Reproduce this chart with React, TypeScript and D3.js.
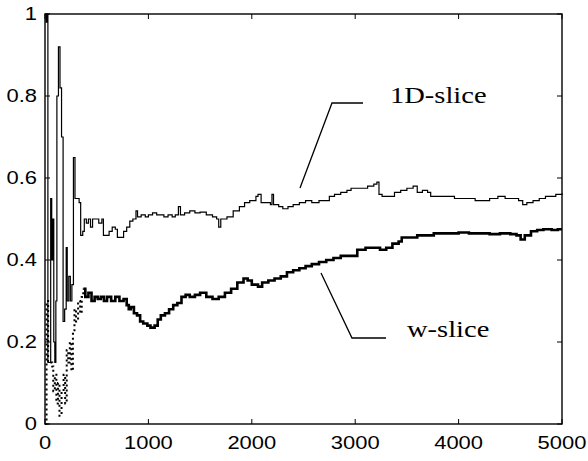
import React from "react";
import * as d3 from "d3";

// 1D-slice (thin line)
const sliceX = [0, 10, 20, 28, 40, 50, 55, 65, 75, 85, 95, 105, 115, 130, 145, 160, 175, 190, 205, 215, 230, 245, 260, 275, 290, 310, 330, 345, 365, 380, 400, 420, 440, 460, 490, 520, 550, 565, 590, 620, 650, 680, 700, 725, 760, 790, 820, 850, 880, 895, 930, 970, 1000, 1040, 1080, 1110, 1150, 1190, 1230, 1260, 1290, 1310, 1350, 1400, 1450, 1500, 1560, 1620, 1660, 1680, 1700, 1760, 1820, 1880, 1930, 1980, 2040, 2060, 2090, 2140, 2180, 2195, 2210, 2260, 2300, 2350, 2400, 2460, 2520, 2580, 2650, 2700, 2750, 2800, 2860, 2920, 2960, 3000, 3060, 3120, 3180, 3210, 3230, 3260, 3320, 3380, 3440, 3500, 3560, 3600, 3650, 3700, 3730, 3800, 3880, 3960, 4040, 4100, 4160, 4230, 4300, 4380, 4450, 4520, 4580, 4620, 4660, 4720, 4780, 4840, 4900, 4940, 5000];
const sliceY = [1.0, 0.98, 1.0, 0.15, 0.15, 0.15, 0.55, 0.4, 0.5, 0.2, 0.15, 0.3, 0.8, 0.92, 0.82, 0.7, 0.25, 0.28, 0.43, 0.3, 0.36, 0.3, 0.34, 0.65, 0.55, 0.55, 0.54, 0.46, 0.47, 0.5, 0.49, 0.5, 0.48, 0.5, 0.5, 0.49, 0.5, 0.46, 0.46, 0.47, 0.48, 0.475, 0.455, 0.455, 0.47, 0.48, 0.495, 0.5, 0.52, 0.505, 0.51, 0.505, 0.51, 0.515, 0.51, 0.51, 0.505, 0.51, 0.505, 0.51, 0.53, 0.51, 0.515, 0.52, 0.515, 0.517, 0.51, 0.505, 0.5, 0.48, 0.5, 0.505, 0.52, 0.53, 0.54, 0.545, 0.555, 0.56, 0.54, 0.54, 0.535, 0.56, 0.535, 0.53, 0.525, 0.53, 0.535, 0.54, 0.545, 0.54, 0.545, 0.545, 0.555, 0.56, 0.565, 0.57, 0.575, 0.575, 0.575, 0.58, 0.585, 0.59, 0.56, 0.555, 0.555, 0.565, 0.57, 0.575, 0.58, 0.565, 0.57, 0.565, 0.555, 0.555, 0.555, 0.55, 0.55, 0.55, 0.545, 0.545, 0.55, 0.555, 0.55, 0.55, 0.545, 0.535, 0.54, 0.545, 0.55, 0.555, 0.555, 0.56, 0.563];

// w-slice (thick line)
const wX = [0, 15, 30, 50, 70, 80, 95, 110, 125, 140, 160, 180, 195, 210, 225, 240, 255, 270, 285, 300, 320, 340, 355, 370, 390, 420, 450, 480, 510, 540, 570, 600, 640, 680, 720, 760, 790, 810, 830, 860, 890, 920, 950, 990, 1020, 1060, 1090, 1120, 1160, 1200, 1240, 1280, 1320, 1360, 1400, 1450, 1500, 1560, 1620, 1680, 1740, 1800, 1860, 1920, 1960, 2000, 2060, 2100, 2160, 2220, 2280, 2340, 2400, 2460, 2520, 2580, 2650, 2720, 2790, 2860, 2950, 3000, 3020, 3100, 3180, 3240, 3300, 3360, 3420, 3450, 3520, 3600, 3680, 3760, 3840, 3920, 4000, 4100, 4200, 4300, 4400, 4500, 4560, 4600, 4640, 4700, 4760, 4820, 4900, 4960, 5000];
const wY = [0.0, 0.3, 0.15, 0.15, 0.14, 0.08, 0.12, 0.05, 0.1, 0.02, 0.08, 0.12, 0.05, 0.18, 0.15, 0.2, 0.13, 0.22, 0.28, 0.25, 0.3, 0.27, 0.31, 0.33, 0.31, 0.32, 0.3, 0.31, 0.305, 0.31, 0.3, 0.31, 0.3, 0.31, 0.3, 0.305, 0.29, 0.28, 0.285, 0.27, 0.265, 0.25, 0.245, 0.24, 0.235, 0.24, 0.255, 0.265, 0.27, 0.28, 0.29, 0.295, 0.31, 0.315, 0.31, 0.315, 0.32, 0.31, 0.305, 0.31, 0.32, 0.33, 0.345, 0.355, 0.35, 0.34, 0.335, 0.345, 0.35, 0.355, 0.36, 0.37, 0.375, 0.38, 0.385, 0.39, 0.395, 0.4, 0.405, 0.41, 0.41, 0.41, 0.425, 0.43, 0.43, 0.425, 0.43, 0.44, 0.445, 0.455, 0.455, 0.46, 0.46, 0.465, 0.465, 0.465, 0.467, 0.465, 0.465, 0.463, 0.465, 0.463, 0.46, 0.45, 0.46, 0.47, 0.473, 0.475, 0.473, 0.475, 0.475];

const xTicks = [0, 1000, 2000, 3000, 4000, 5000];
const yTicks = [0, 0.2, 0.4, 0.6, 0.8, 1];
const yTickLabels = ["0", "0.2", "0.4", "0.6", "0.8", "1"];

export default function App() {
  const W = 588, H = 461;
  const left = 45, right = 562, top = 14, bottom = 424;

  const x = d3.scaleLinear().domain([0, 5000]).range([left, right]);
  const y = d3.scaleLinear().domain([0, 1]).range([bottom, top]);

  const line = d3.line<[number, number]>()
    .x(d => x(d[0]))
    .y(d => y(d[1]))
    .curve(d3.curveStepAfter);

  const slice = sliceX.map((v, i) => [v, sliceY[i]] as [number, number]);
  const wAll = wX.map((v, i) => [v, wY[i]] as [number, number]);
  const wEarly = wAll.filter(d => d[0] <= 370);
  const wLate = wAll.filter(d => d[0] >= 370);

  const tick = 5;
  const sans = "'Liberation Sans', Arial, sans-serif";
  const serif = "'Liberation Serif', 'Times New Roman', serif";

  return (
    <svg width={W} height={H} style={{ position: "absolute", left: 0, top: 0, background: "#fff" }}>
      <rect x={0} y={0} width={W} height={H} fill="#fff" />

      {/* axes box */}
      <rect x={left} y={top} width={right - left} height={bottom - top} fill="none" stroke="#000" strokeWidth={1.4} />

      {xTicks.map(t => (
        <g key={"xt" + t}>
          <line x1={x(t)} x2={x(t)} y1={bottom} y2={bottom - tick} stroke="#000" strokeWidth={1} />
          <line x1={x(t)} x2={x(t)} y1={top} y2={top + tick} stroke="#000" strokeWidth={1} />
          <text transform={`translate(${x(t)},449) scale(1.22,1)`} textAnchor="middle"
            fontFamily={sans} fontSize={18} fill="#000">{t}</text>
        </g>
      ))}

      {yTicks.map((t, i) => (
        <g key={"yt" + t}>
          <line x1={left} x2={left + tick} y1={y(t)} y2={y(t)} stroke="#000" strokeWidth={1} />
          <line x1={right} x2={right - tick} y1={y(t)} y2={y(t)} stroke="#000" strokeWidth={1} />
          <text transform={`translate(37,${y(t) + 6}) scale(1.22,1)`} textAnchor="end"
            fontFamily={sans} fontSize={18} fill="#000">{yTickLabels[i]}</text>
        </g>
      ))}

      {/* series */}
      <path d={line(slice) || ""} fill="none" stroke="#000" strokeWidth={1.2} />
      <path d={line(wEarly) || ""} fill="none" stroke="#000" strokeWidth={2} strokeDasharray="2,3" />
      <path d={line(wLate) || ""} fill="none" stroke="#000" strokeWidth={2.6} />

      {/* annotations */}
      <polyline points="300,188 332,103 363,103" fill="none" stroke="#000" strokeWidth={1.3} />
      <text transform="translate(390,103) scale(1.24,1)" fontFamily={serif} fontSize={23} fill="#000">1D-slice</text>

      <polyline points="321,273 352,338 386,338" fill="none" stroke="#000" strokeWidth={1.3} />
      <text transform="translate(407,337) scale(1.24,1)" fontFamily={serif} fontSize={23} fill="#000">w-slice</text>
    </svg>
  );
}
